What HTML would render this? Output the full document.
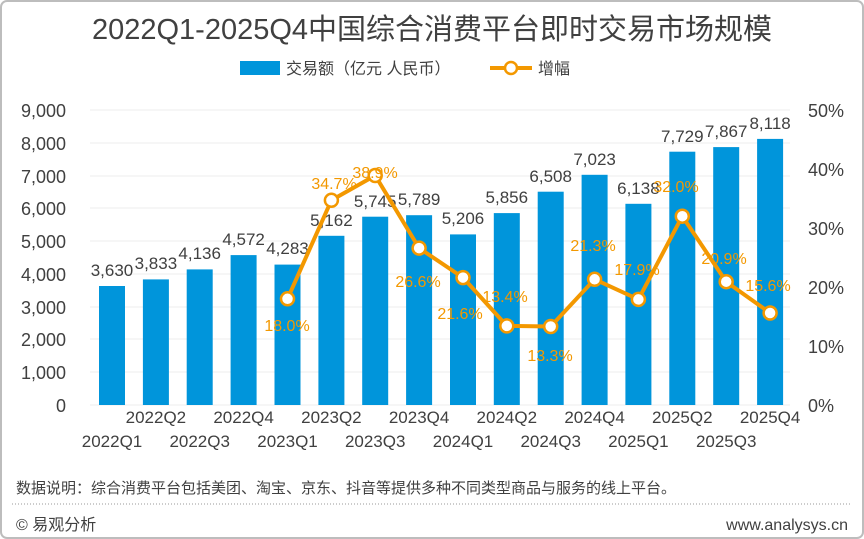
<!DOCTYPE html>
<html><head><meta charset="utf-8"><style>
body{margin:0;background:#fff}
svg{display:block;font-family:"Liberation Sans","Noto Sans CJK SC",sans-serif}
</style></head><body>
<svg width="864" height="539" viewBox="0 0 864 539" xmlns="http://www.w3.org/2000/svg">
<rect x="1" y="1" width="862" height="537" rx="6" fill="#fff" stroke="#bdbdbd" stroke-width="2"/>
<text x="432" y="39" text-anchor="middle" font-size="29" fill="#404040">2022Q1-2025Q4中国综合消费平台即时交易市场规模</text>
<rect x="240" y="61" width="40" height="14" fill="#0095DB"/>
<text x="286" y="74" font-size="16" fill="#404040">交易额（亿元 人民币）</text>
<line x1="490" y1="68" x2="532" y2="68" stroke="#F39800" stroke-width="4"/>
<circle cx="511" cy="68" r="6" fill="#fff" stroke="#F39800" stroke-width="2.5"/>
<text x="538" y="74" font-size="16" fill="#404040">增幅</text>
<g stroke="#ececec" stroke-width="1">
<line x1="90" y1="110" x2="790" y2="110"/><line x1="90" y1="143" x2="790" y2="143"/><line x1="90" y1="176" x2="790" y2="176"/><line x1="90" y1="208" x2="790" y2="208"/><line x1="90" y1="241" x2="790" y2="241"/><line x1="90" y1="274" x2="790" y2="274"/><line x1="90" y1="307" x2="790" y2="307"/><line x1="90" y1="339" x2="790" y2="339"/><line x1="90" y1="372" x2="790" y2="372"/><line x1="90" y1="405" x2="790" y2="405"/>
</g>
<g font-size="18" fill="#404040" text-anchor="end">
<text x="66" y="117">9,000</text><text x="66" y="150">8,000</text><text x="66" y="183">7,000</text><text x="66" y="215">6,000</text><text x="66" y="248">5,000</text><text x="66" y="281">4,000</text><text x="66" y="314">3,000</text><text x="66" y="346">2,000</text><text x="66" y="379">1,000</text><text x="66" y="412">0</text>
</g>
<g font-size="18" fill="#404040">
<text x="808" y="117">50%</text><text x="808" y="176">40%</text><text x="808" y="235">30%</text><text x="808" y="294">20%</text><text x="808" y="353">10%</text><text x="808" y="412">0%</text>
</g>
<g fill="#0095DB">
<rect x="99" y="286" width="26" height="119"/>
<rect x="142.9" y="279.4" width="26" height="125.6"/>
<rect x="186.7" y="269.4" width="26" height="135.6"/>
<rect x="230.6" y="255.1" width="26" height="149.9"/>
<rect x="274.5" y="264.6" width="26" height="140.4"/>
<rect x="318.4" y="235.8" width="26" height="169.2"/>
<rect x="362.2" y="216.7" width="26" height="188.3"/>
<rect x="406.1" y="215.2" width="26" height="189.8"/>
<rect x="450" y="234.4" width="26" height="170.6"/>
<rect x="493.8" y="213.1" width="26" height="191.9"/>
<rect x="537.7" y="191.7" width="26" height="213.3"/>
<rect x="581.6" y="174.8" width="26" height="230.2"/>
<rect x="625.4" y="203.8" width="26" height="201.2"/>
<rect x="669.3" y="151.7" width="26" height="253.3"/>
<rect x="713.2" y="147.1" width="26" height="257.9"/>
<rect x="757.1" y="138.9" width="26" height="266.1"/>
</g>
<g font-size="17" fill="#404040" text-anchor="middle">
<text x="112" y="276">3,630</text>
<text x="155.9" y="269">3,833</text>
<text x="199.7" y="259">4,136</text>
<text x="243.6" y="245">4,572</text>
<text x="287.5" y="254">4,283</text>
<text x="331.4" y="226">5,162</text>
<text x="375.2" y="207">5,745</text>
<text x="419.1" y="205">5,789</text>
<text x="463" y="224">5,206</text>
<text x="506.8" y="203">5,856</text>
<text x="550.7" y="182">6,508</text>
<text x="594.6" y="165">7,023</text>
<text x="638.4" y="194">6,138</text>
<text x="682.3" y="142">7,729</text>
<text x="726.2" y="137">7,867</text>
<text x="770.1" y="129">8,118</text>
</g>
<g font-size="17" fill="#404040" text-anchor="middle">
<text x="112" y="447">2022Q1</text><text x="155.9" y="423">2022Q2</text><text x="199.7" y="447">2022Q3</text><text x="243.6" y="423">2022Q4</text>
<text x="287.5" y="447">2023Q1</text><text x="331.4" y="423">2023Q2</text><text x="375.2" y="447">2023Q3</text><text x="419.1" y="423">2023Q4</text>
<text x="463" y="447">2024Q1</text><text x="506.8" y="423">2024Q2</text><text x="550.7" y="447">2024Q3</text><text x="594.6" y="423">2024Q4</text>
<text x="638.4" y="447">2025Q1</text><text x="682.3" y="423">2025Q2</text><text x="726.2" y="447">2025Q3</text><text x="770.1" y="423">2025Q4</text>
</g>
<polyline fill="none" stroke="#F39800" stroke-width="4" stroke-linejoin="round" points="287.5,298.8 331.4,200.3 375.2,175.5 419.1,248.1 463,277.6 506.8,325.9 550.7,326.5 594.6,279.3 638.4,299.4 682.3,216.2 726.2,281.7 770.1,313"/>
<g fill="#fff" stroke="#F39800" stroke-width="2.5">
<circle cx="287.5" cy="298.8" r="6.5"/><circle cx="331.4" cy="200.3" r="6.5"/><circle cx="375.2" cy="175.5" r="6.5"/><circle cx="419.1" cy="248.1" r="6.5"/><circle cx="463" cy="277.6" r="6.5"/><circle cx="506.8" cy="325.9" r="6.5"/><circle cx="550.7" cy="326.5" r="6.5"/><circle cx="594.6" cy="279.3" r="6.5"/><circle cx="638.4" cy="299.4" r="6.5"/><circle cx="682.3" cy="216.2" r="6.5"/><circle cx="726.2" cy="281.7" r="6.5"/><circle cx="770.1" cy="313" r="6.5"/>
</g>
<g font-size="16" fill="#F39800" text-anchor="middle">
<text x="287" y="331">18.0%</text><text x="334" y="189">34.7%</text><text x="375" y="178">38.9%</text><text x="418" y="287">26.6%</text><text x="460" y="319">21.6%</text><text x="505" y="302">13.4%</text><text x="550" y="361">13.3%</text><text x="593" y="251">21.3%</text><text x="637" y="275">17.9%</text><text x="676" y="192">32.0%</text><text x="724" y="264">20.9%</text><text x="768" y="291">15.6%</text>
</g>
<text x="16" y="493" font-size="15" fill="#404040">数据说明：综合消费平台包括美团、淘宝、京东、抖音等提供多种不同类型商品与服务的线上平台。</text>
<line x1="12" y1="504" x2="852" y2="504" stroke="#999" stroke-width="1" stroke-dasharray="1,2"/>
<text x="16" y="530" font-size="16" fill="#404040">© 易观分析</text>
<text x="848" y="530" font-size="16" fill="#404040" text-anchor="end">www.analysys.cn</text>
</svg>
</body></html>
